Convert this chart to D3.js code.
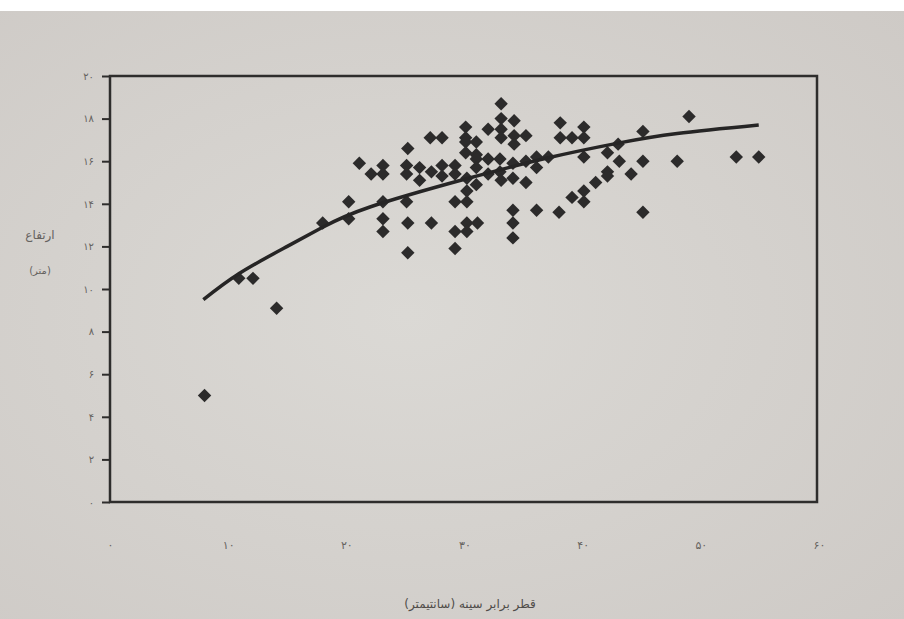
<!DOCTYPE html>
<html>
<head>
<meta charset="utf-8">
<script src="https://cdn.jsdelivr.net/npm/d3@7"></script>
<style>
  html, body { margin: 0; padding: 0; background: #fff; }
  svg { display: block; }
  .tick text { fill: #66635f; font-family: "DejaVu Sans", sans-serif; }
</style>
</head>
<body>
<svg id="chart" width="904" height="619"></svg>
<script>
// diameter at breast height (cm) and tree height (m)
var diameter = [
    8.0, 10.9, 12.1, 14.1, 18.0, 20.2, 20.2, 21.1, 22.1, 23.1,
    23.1, 23.1, 23.1, 23.1, 25.2, 25.1, 25.1, 25.1, 25.2, 25.2,
    26.2, 26.2, 27.1, 28.1, 27.2, 27.2, 28.1, 28.1, 29.2, 29.2,
    29.2, 29.2, 29.2, 30.1, 30.1, 30.1, 30.1, 30.2, 30.2, 30.2,
    30.2, 30.2, 31.0, 31.0, 31.0, 31.0, 31.0, 31.1, 32.0, 32.0,
    32.0, 33.1, 33.1, 33.1, 33.1, 33.0, 33.0, 33.1, 34.2, 34.2,
    34.2, 34.1, 34.1, 34.1, 34.1, 34.1, 35.2, 35.2, 35.2, 36.1,
    36.1, 36.1, 37.1, 38.0, 38.1, 38.1, 39.1, 40.1, 40.1, 40.1,
    40.1, 40.1, 39.1, 41.1, 42.1, 42.1, 42.1, 43.0, 43.1, 44.1,
    45.1, 45.1, 45.1, 48.0, 49.0, 53.0, 54.9
];
var height = [
    5.0, 10.5, 10.5, 9.1, 13.1, 14.1, 13.3, 15.9, 15.4, 15.8,
    15.4, 14.1, 13.3, 12.7, 16.6, 15.8, 15.4, 14.1, 13.1, 11.7,
    15.7, 15.1, 17.1, 17.1, 15.5, 13.1, 15.8, 15.3, 15.8, 15.4,
    14.1, 12.7, 11.9, 17.6, 17.1, 16.9, 16.4, 15.2, 14.6, 14.1,
    13.1, 12.7, 16.9, 16.3, 16.1, 15.7, 14.9, 13.1, 17.5, 16.1,
    15.4, 18.7, 18.0, 17.5, 17.1, 16.1, 15.5, 15.1, 17.9, 17.2,
    16.8, 15.9, 15.2, 13.7, 13.1, 12.4, 17.2, 16.0, 15.0, 16.2,
    15.7, 13.7, 16.2, 13.6, 17.8, 17.1, 17.1, 17.6, 17.1, 16.2,
    14.6, 14.1, 14.3, 15.0, 16.4, 15.5, 15.3, 16.8, 16.0, 15.4,
    17.4, 16.0, 13.6, 16.0, 18.1, 16.2, 16.2
];

// fitted curve, points
var fitX = [7.9, 11, 15, 18, 22, 30, 37, 43, 48, 54.9];
var fitY = [9.5, 10.75, 12.0, 12.9, 13.85, 15.15, 16.15, 16.85, 17.3, 17.7];

var xTicks = [0, 10, 20, 30, 40, 50, 60];
var yTicks = [0, 2, 4, 6, 8, 10, 12, 14, 16, 18, 20];

var xTitle = "قطر برابر سینه (سانتیمتر)";
var yTitle = "ارتفاع";
var yUnit = "(متر)";

var faDigits = "۰۱۲۳۴۵۶۷۸۹";
function toFa(v) {
    return String(v).replace(/\d/g, function (d) { return faDigits[+d]; });
}

var svg = d3.select("#chart");

// paper
var defs = svg.append("defs");
var grad = defs.append("radialGradient").attr("id", "paper")
    .attr("cx", "45%").attr("cy", "50%").attr("r", "75%");
grad.append("stop").attr("offset", "0%").attr("stop-color", "#dbd9d5");
grad.append("stop").attr("offset", "100%").attr("stop-color", "#ceca c6".replace(" ", ""));
svg.append("rect").attr("x", 0).attr("y", 11).attr("width", 904).attr("height", 608)
    .attr("fill", "url(#paper)");

var x = d3.scaleLinear().domain([0, 60]).range([110, 819]);
var y = d3.scaleLinear().domain([0, 20]).range([502, 76]);

// frame
svg.append("rect")
    .attr("x", x(0)).attr("y", y(20))
    .attr("width", x(60) - x(0) - 2).attr("height", y(0) - y(20))
    .attr("fill", "none").attr("stroke", "#2e2d2c").attr("stroke-width", 2.5);

// y axis
var gy = svg.append("g")
    .attr("transform", "translate(" + x(0) + ",0)")
    .call(d3.axisLeft(y).tickValues(yTicks).tickSize(8).tickPadding(8).tickFormat(toFa));
gy.select(".domain").remove();
gy.selectAll(".tick line").attr("stroke", "#2e2d2c").attr("stroke-width", 2);
gy.selectAll(".tick text").style("font-size", "10px");

// x axis (labels only)
var gx = svg.append("g")
    .attr("transform", "translate(0," + y(0) + ")")
    .call(d3.axisBottom(x).tickValues(xTicks).tickSize(0).tickPadding(39).tickFormat(toFa));
gx.select(".domain").remove();
gx.selectAll(".tick text").style("font-size", "11px");

// points
var diamond = d3.symbol().type(d3.symbolSquare).size(90);
svg.append("g")
    .selectAll("path")
    .data(diameter)
    .enter().append("path")
    .attr("d", diamond)
    .attr("transform", function (d, i) {
        return "translate(" + x(d) + "," + y(height[i]) + ") rotate(45)";
    })
    .attr("fill", "#2c2b2b");

// fitted line
var line = d3.line()
    .x(function (d) { return x(d[0]); })
    .y(function (d) { return y(d[1]); })
    .curve(d3.curveNatural);
svg.append("path")
    .datum(d3.zip(fitX, fitY))
    .attr("d", line)
    .attr("fill", "none")
    .attr("stroke", "#262525")
    .attr("stroke-width", 3.5);

// titles
svg.append("text")
    .attr("x", 470).attr("y", 608)
    .attr("text-anchor", "middle")
    .style("font-family", "DejaVu Sans, sans-serif")
    .style("font-size", "12px")
    .attr("fill", "#4f4c49")
    .text(xTitle);

svg.append("text")
    .attr("x", 40).attr("y", 239)
    .attr("text-anchor", "middle")
    .style("font-family", "DejaVu Sans, sans-serif")
    .style("font-size", "12px")
    .attr("fill", "#65625f")
    .text(yTitle);

svg.append("text")
    .attr("x", 40).attr("y", 274)
    .attr("text-anchor", "middle")
    .style("font-family", "DejaVu Sans, sans-serif")
    .style("font-size", "10px")
    .attr("fill", "#65625f")
    .text(yUnit);
</script>
</body>
</html>
